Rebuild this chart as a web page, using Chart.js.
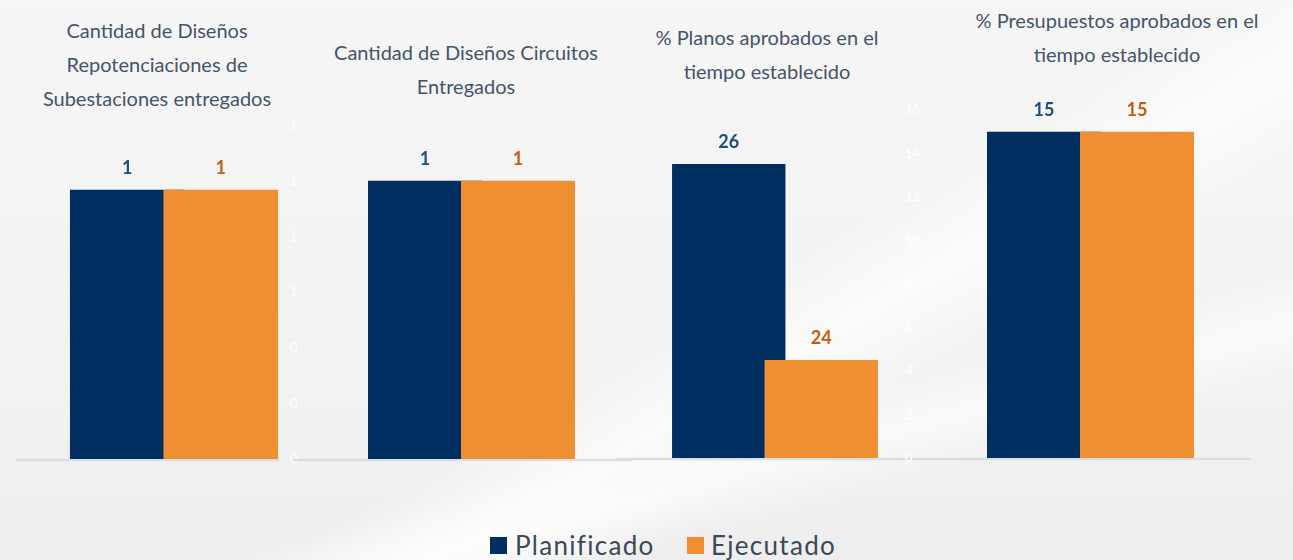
<!DOCTYPE html>
<html lang="es">
<head>
<meta charset="utf-8">
<title>Diseños y aprobaciones</title>
<script src="https://cdn.jsdelivr.net/npm/chart.js@4"></script>
<style>
  html, body { margin: 0; padding: 0; }
  body {
    width: 1293px; height: 560px; position: relative; overflow: hidden;
    background:
      linear-gradient(150deg, rgba(255,255,255,0) 55%, rgba(255,255,255,0.7) 62%, rgba(255,255,255,0) 70%),
      linear-gradient(165deg, rgba(255,255,255,0) 68%, rgba(255,255,255,0.6) 74%, rgba(255,255,255,0) 80%),
      linear-gradient(180deg, #f6f6f6 0%, #f2f2f2 70%, #eeeeee 100%);
    font-family: Lato, "Open Sans", sans-serif;
  }
  canvas { position: absolute; top: 0; }
  .title {
    position: absolute; width: 320px; text-align: center;
    font-size: 20px; line-height: 34px; color: #44546a;
  }
  .lg {
    position: absolute; top: 528px; height: 34px; line-height: 34px;
    font-size: 26px; letter-spacing: 1.3px; color: #3b4858; white-space: nowrap;
  }
  .sw { position: absolute; top: 537px; width: 17px; height: 17px; }
</style>
</head>
<body>

<div class="title" style="left:-3px; top:13px;">Cantidad de Diseños<br>Repotenciaciones de<br>Subestaciones entregados</div>
<div class="title" style="left:306px; top:35px;">Cantidad de Diseños Circuitos<br>Entregados</div>
<div class="title" style="left:607px; top:20px;">% Planos aprobados en el<br>tiempo establecido</div>
<div class="title" style="left:957px; top:3px;">% Presupuestos aprobados en el<br>tiempo establecido</div>

<canvas id="c1" width="280" height="470" style="left:10px;"></canvas>
<canvas id="c2" width="345" height="470" style="left:290px;"></canvas>
<canvas id="c3" width="325" height="470" style="left:612px;"></canvas>
<canvas id="c4" width="350" height="470" style="left:905px;"></canvas>

<div class="sw" style="left:490px; background:#002e61"></div>
<div class="lg" style="left:515px;">Planificado</div>
<div class="sw" style="left:687px; background:#f08f31"></div>
<div class="lg" style="left:711px;">Ejecutado</div>

<script>
const seriesNames = ["Planificado", "Ejecutado"];
const panelTitles = [
  "Cantidad de Diseños Repotenciaciones de Subestaciones entregados",
  "Cantidad de Diseños Circuitos Entregados",
  "% Planos aprobados en el tiempo establecido",
  "% Presupuestos aprobados en el tiempo establecido"
];
const planificado = [1, 1, 26, 15];
const ejecutado = [1, 1, 24, 15];
const axisMin = [0, 0, 23, 0];
const axisMax = [1.2, 1.2, 26.5, 16];
const axisStep = [0.2, 0.2, 0.5, 2];

const NAVY = "#002e61";
const ORANGE = "#f08f31";

// per-panel layout (canvas px)
const panels = [
  { id: "c1", padL: 70.5, padR: 22.5, top: 136, bottom: 11, yW: 0, showY: false, base: [6, 270] },
  { id: "c2", padL: 0, padR: 70.5, top: 125, bottom: 11, yW: 88.5, showY: true, base: [3, 341] },
  { id: "c3", padL: 70.5, padR: 69.5, top: 115, bottom: 12, yW: 0, showY: false, base: [5, 322] },
  { id: "c4", padL: 0, padR: 71.5, top: 110, bottom: 12, yW: 92.5, showY: true, base: [27, 345] }
];

const baseLine = {
  id: "baseLine",
  beforeDatasetsDraw(chart) {
    const { ctx, scales } = chart;
    const b = chart.options.plugins.baseLine.range;
    const y = scales.y.getPixelForValue(scales.y.min);
    ctx.save();
    ctx.strokeStyle = "#d9dfe7";
    ctx.lineWidth = 2.5;
    ctx.beginPath();
    ctx.moveTo(b[0], y + 1);
    ctx.lineTo(b[1], y + 1);
    ctx.stroke();
    ctx.restore();
  }
};

const valueLabels = {
  id: "valueLabels",
  afterDatasetsDraw(chart) {
    const { ctx } = chart;
    ctx.save();
    ctx.font = "bold 18px Lato, 'Open Sans', sans-serif";
    ctx.textAlign = "center";
    ctx.textBaseline = "alphabetic";
    chart.data.datasets.forEach((ds, i) => {
      const meta = chart.getDatasetMeta(i);
      meta.data.forEach((bar, j) => {
        const v = ds.data[j];
        if (v === null || v === undefined) return;
        ctx.fillStyle = ds.labelColor;
        ctx.fillText(String(Math.round(v)), bar.x, bar.y - 16);
      });
    });
    ctx.restore();
  }
};

panels.forEach((p, k) => {
  new Chart(document.getElementById(p.id), {
    type: "bar",
    data: {
      labels: seriesNames,
      datasets: [
        {
          label: seriesNames[0],
          data: [planificado[k], null],
          backgroundColor: NAVY,
          labelColor: "#1f4e7d",
          base: axisMin[k],
          clip: false,
          order: 1
        },
        {
          label: seriesNames[1],
          data: [null, ejecutado[k]],
          backgroundColor: ORANGE,
          labelColor: "#c65a13",
          base: axisMin[k],
          clip: false,
          order: 0
        }
      ]
    },
    options: {
      responsive: false,
      animation: false,
      grouped: false,
      categoryPercentage: 1,
      barPercentage: 114 / 93,
      layout: { padding: { left: p.padL, right: p.padR, top: p.top, bottom: p.bottom } },
      plugins: {
        legend: { display: false },
        tooltip: { enabled: false },
        title: { display: false, text: panelTitles[k] },
        baseLine: { range: p.base }
      },
      scales: {
        x: { display: false },
        y: {
          display: p.showY,
          min: axisMin[k],
          max: axisMax[k],
          grid: { display: false, drawTicks: false },
          border: { display: false },
          afterFit: (s) => { s.width = p.yW; s.paddingTop = 0; s.paddingBottom = 0; },
          ticks: {
            stepSize: axisStep[k],
            padding: 0,
            crossAlign: "far",
            color: "rgba(255,255,255,0.95)",
            font: { family: "Lato", size: 13 },
            callback: (v) => Math.round(v)
          }
        }
      }
    },
    plugins: [baseLine, valueLabels]
  });
});
</script>
</body>
</html>
